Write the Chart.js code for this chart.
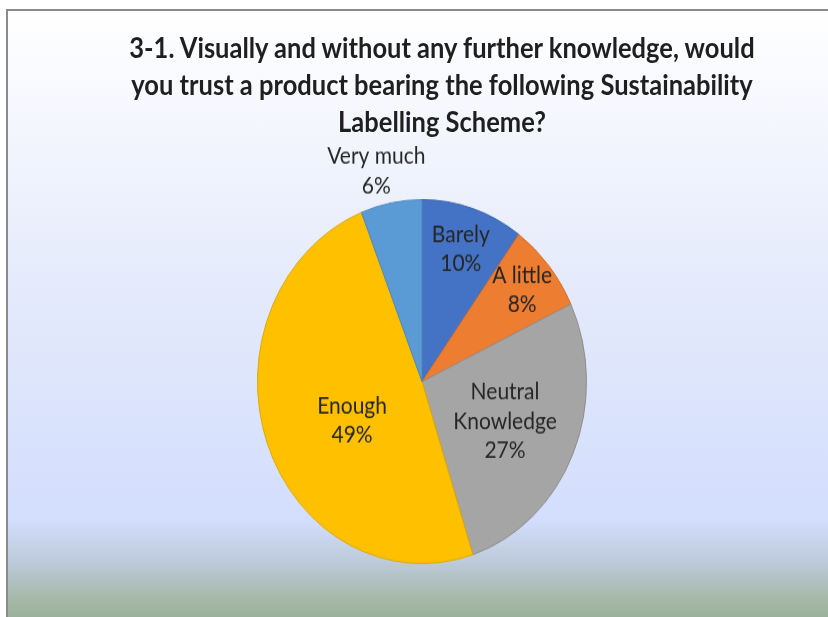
<!DOCTYPE html>
<html>
<head>
<meta charset="utf-8">
<title>Sustainability Labelling Scheme trust</title>
<script src="https://cdn.jsdelivr.net/npm/chart.js@4.4.1/dist/chart.umd.min.js"></script>
<style>
    html, body { margin: 0; padding: 0; overflow: hidden; background: #fff; }
    #frame {
        position: fixed; left: 6px; top: 9px; right: -40px; bottom: -40px;
        border-left: 2px solid #8a8a8a; border-top: 2px solid #8a8a8a;
        background: linear-gradient(to bottom, #ffffff 0px, #e4eafb 280px, #d3defd 508px, #bccad9 552px, #a6b8a8 588px, #97ad94 615px);
    }
    /* the reference is stretched vertically, so the whole drawing is too */
    #stage { position: fixed; left: 0; top: 0; width: 828px; height: 558px; transform: scaleY(1.106); transform-origin: 0 0; }
    #title {
        position: absolute; left: 56px; top: 26px; width: 772px; margin: 0;
        text-align: center; font: bold 25.5px Lato, 'Open Sans', sans-serif; line-height: 33.5px; color: #1f1f1f;
    }
    #chartBox { position: absolute; left: 0; top: 120px; width: 828px; height: 450px; }
</style>
</head>
<body>
<div id="frame"></div>
<div id="stage">
    <h1 id="title">3-1. Visually and without any further knowledge, would<br>you trust a product bearing the following Sustainability<br>Labelling Scheme?</h1>
    <div id="chartBox"><canvas id="pieChart"></canvas></div>
</div>
<script>
(function() {
    'use strict';

    // ===== Data =====
    const categories = ['Barely', 'A little', 'Neutral Knowledge', 'Enough', 'Very much'];
    const shares = [10, 8, 27, 49, 6];

    // ===== Style =====
    const fills = ['#4472c4', '#ed7d31', '#a5a5a5', '#ffc000', '#5b9bd5'];
    const edges = ['#3a63ad', '#cf6a26', '#8e8e8e', '#dea800', '#4c88bf'];
    const labelLines = [['Barely'], ['A little'], ['Neutral', 'Knowledge'], ['Enough'], ['Very much']];
    // radius factor and angle shift (deg) for each data label
    const labelPlace = [[0.764, 0], [0.79, 0], [0.55, 0], [0.476, -7], [1.19, -2.7]];

    const pieLabels = {
        id: 'pieLabels',
        afterDatasetsDraw(chart) {
            const ctx = chart.ctx;
            const meta = chart.getDatasetMeta(0);
            const total = shares.reduce((a, b) => a + b, 0);
            ctx.save();
            ctx.font = '21px Lato, "Open Sans", sans-serif';
            ctx.fillStyle = '#262626';
            ctx.textAlign = 'center';
            ctx.textBaseline = 'middle';
            meta.data.forEach((arc, i) => {
                const p = arc.getProps(['x', 'y', 'startAngle', 'endAngle', 'outerRadius'], true);
                const ang = (p.startAngle + p.endAngle) / 2 + labelPlace[i][1] * Math.PI / 180;
                const r = p.outerRadius * labelPlace[i][0];
                const cx = p.x + Math.cos(ang) * r;
                const cy = p.y + Math.sin(ang) * r;
                const lines = labelLines[i].concat([Math.round(shares[i] / total * 100) + '%']);
                const lh = 26.5;
                lines.forEach((t, k) => {
                    ctx.fillText(t, cx, cy + (k - (lines.length - 1) / 2) * lh);
                });
            });
            ctx.restore();
        }
    };

    new Chart(document.getElementById('pieChart'), {
        type: 'pie',
        data: {
            labels: categories,
            datasets: [{
                data: shares,
                backgroundColor: fills,
                borderColor: edges,
                borderWidth: 1
            }]
        },
        options: {
            responsive: true,
            maintainAspectRatio: false,
            animation: false,
            layout: { padding: { top: 60, bottom: 60, left: 16, right: 0 } },
            plugins: {
                legend: { display: false },
                tooltip: { enabled: false },
                title: { display: false }
            }
        },
        plugins: [pieLabels]
    });
})();
</script>
</body>
</html>
